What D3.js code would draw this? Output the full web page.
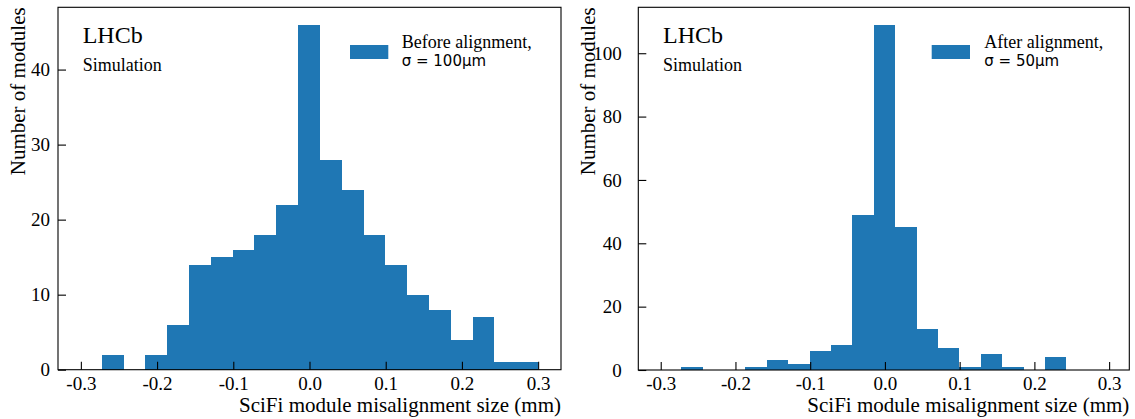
<!DOCTYPE html>
<html>
<head>
<meta charset="utf-8">
<script src="https://cdn.jsdelivr.net/npm/d3@7"></script>
<style>
  html, body { margin: 0; padding: 0; background: #fff; }
  svg { display: block; }
  .serif { font-family: "Liberation Serif", "Times New Roman", serif; }
  .sans { font-family: "DejaVu Sans", sans-serif; }
</style>
</head>
<body>
<svg id="chart" width="1135" height="419"></svg>
<script>
// ---- data ----
const binEdges = [-0.2726, -0.2440, -0.2153, -0.1867, -0.1581, -0.1295, -0.1008, -0.0722,
                  -0.0436, -0.0149, 0.0137, 0.0423, 0.0710, 0.0996, 0.1282, 0.1569,
                  0.1855, 0.2141, 0.2427, 0.2714, 0.3000];
const beforeCounts = [2, 0, 2, 6, 14, 15, 16, 18, 22, 46, 28, 24, 18, 14, 10, 8, 4, 7, 1, 1];
const afterCounts  = [1, 0, 0, 1, 3, 2, 6, 8, 49, 109, 45, 13, 7, 1, 5, 1, 0, 4, 0, 0];
const xTicks = [-0.3, -0.2, -0.1, 0.0, 0.1, 0.2, 0.3];
const xTickLabels = ["-0.3", "-0.2", "-0.1", "0.0", "0.1", "0.2", "0.3"];
const yTicksBefore = [0, 10, 20, 30, 40];
const yTicksAfter = [0, 20, 40, 60, 80, 100];
const legendBefore = ["Before alignment,", "σ = 100μm"];
const legendAfter = ["After alignment,", "σ = 50μm"];
const xLabel = "SciFi module misalignment size (mm)";
const yLabel = "Number of modules";

const color = "#1f77b4";
const svg = d3.select("#chart");

const panels = [
  { counts: beforeCounts, yTicks: yTicksBefore, legend: legendBefore,
    left: 58, right: 561, top: 7.3, bottom: 369.7,
    xDomain: [-0.33, 0.33], yMax: 48.3, yLabelX: 25, yTickLabelX: 50,
    legPatchX: 350, legTextX: 401.7 },
  { counts: afterCounts, yTicks: yTicksAfter, legend: legendAfter,
    left: 638.3, right: 1129.3, top: 7.3, bottom: 370,
    xDomain: [-0.33, 0.327], yMax: 114.5, yLabelX: 595, yTickLabelX: 621.7,
    legPatchX: 931.7, legTextX: 984.3 }
];

panels.forEach(p => {
  const x = d3.scaleLinear().domain(p.xDomain).range([p.left, p.right]);
  const y = d3.scaleLinear().domain([0, p.yMax]).range([p.bottom, p.top]);
  const g = svg.append("g");

  // bars
  const bins = p.counts.map((c, i) => ({ x0: binEdges[i], x1: binEdges[i + 1], c }));
  g.append("g").attr("shape-rendering", "crispEdges")
    .selectAll("rect").data(bins.filter(b => b.c > 0)).join("rect")
    .attr("x", d => x(d.x0))
    .attr("width", d => x(d.x1) - x(d.x0))
    .attr("y", d => y(d.c))
    .attr("height", d => y(0) - y(d.c))
    .attr("fill", color);

  // x axis (ticks inward)
  const xAxis = d3.axisBottom(x).tickValues(xTicks)
    .tickFormat((d, i) => xTickLabels[i]).tickSize(-8).tickPadding(0);
  const xg = g.append("g").attr("transform", `translate(0,${p.bottom})`).call(xAxis);
  xg.select(".domain").remove();
  xg.selectAll(".tick line").attr("stroke", "#000").attr("stroke-width", 1.1);
  xg.selectAll(".tick text").attr("class", "serif").attr("font-size", 19)
    .attr("fill", "#000").attr("dy", null).attr("y", 20.3);

  // y axis (ticks inward)
  const yAxis = d3.axisLeft(y).tickValues(p.yTicks).tickSize(-8).tickPadding(0);
  const yg = g.append("g").attr("transform", `translate(${p.left},0)`).call(yAxis);
  yg.select(".domain").remove();
  yg.selectAll(".tick line").attr("stroke", "#000").attr("stroke-width", 1.1);
  yg.selectAll(".tick text").attr("class", "serif").attr("font-size", 19)
    .attr("fill", "#000").attr("x", p.yTickLabelX - p.left).attr("dy", "0.33em");

  // frame
  g.append("rect").attr("x", p.left).attr("y", p.top)
    .attr("width", p.right - p.left).attr("height", p.bottom - p.top)
    .attr("fill", "none").attr("stroke", "#000").attr("stroke-width", 1.1);

  // labels
  g.append("text").attr("class", "serif").attr("font-size", 21)
    .attr("x", p.right).attr("y", 412).attr("text-anchor", "end")
    .attr("fill", "#000").text(xLabel);
  g.append("text").attr("class", "serif").attr("font-size", 21)
    .attr("transform", `translate(${p.yLabelX},${p.top}) rotate(-90)`)
    .attr("text-anchor", "end").attr("fill", "#000").text(yLabel);

  // LHCb Simulation
  g.append("text").attr("class", "serif").attr("font-size", 24)
    .attr("x", p.left + 24.7).attr("y", 42.5).attr("fill", "#000").text("LHCb");
  g.append("text").attr("class", "serif").attr("font-size", 18)
    .attr("x", p.left + 24.7).attr("y", 70.5).attr("fill", "#000").text("Simulation");

  // legend
  g.append("rect").attr("x", p.legPatchX).attr("y", 45).attr("width", 38.3).attr("height", 14)
    .attr("fill", color);
  g.append("text").attr("class", "serif").attr("font-size", 18)
    .attr("x", p.legTextX).attr("y", 48.3).attr("fill", "#000").text(p.legend[0]);
  g.append("text").attr("class", "sans").attr("font-size", 15)
    .attr("x", p.legTextX).attr("y", 65.5).attr("fill", "#000").text(p.legend[1]);
});
</script>
</body>
</html>
